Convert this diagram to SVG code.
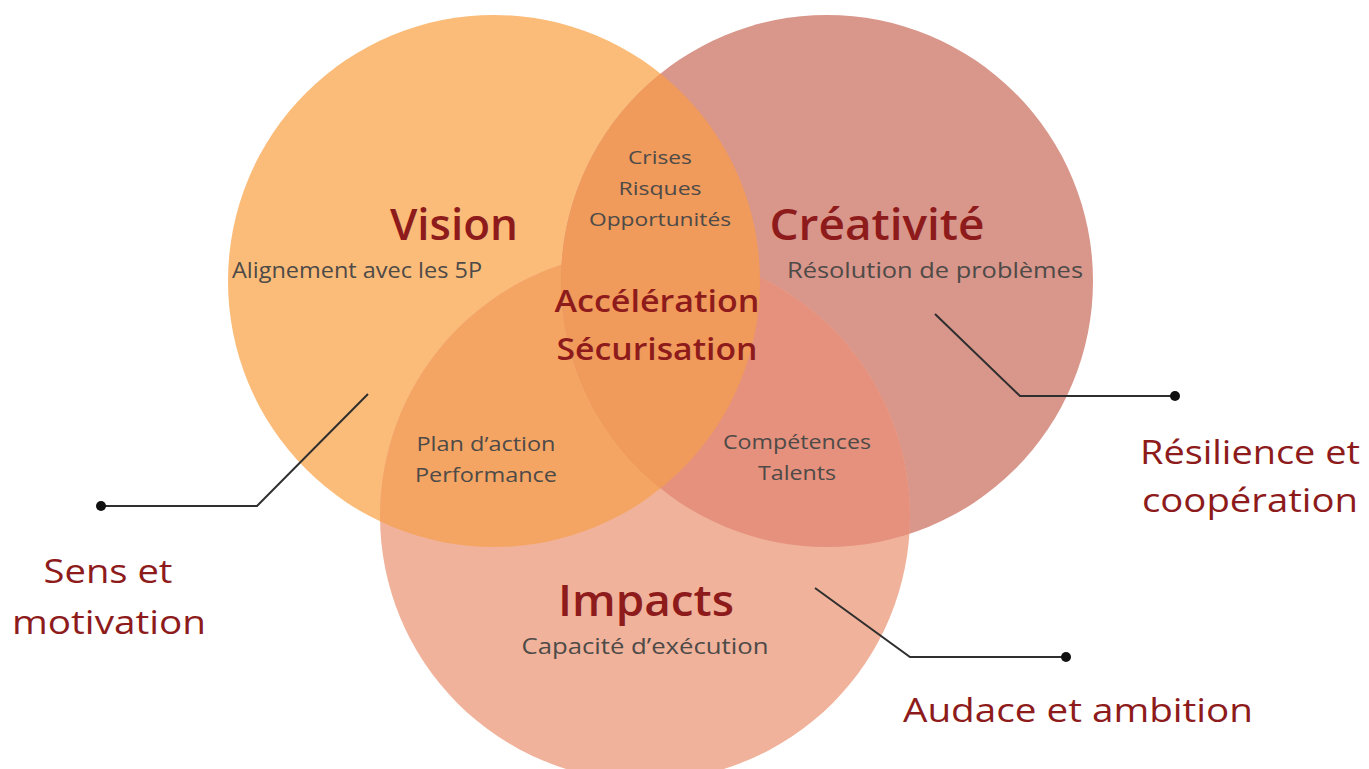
<svg xmlns="http://www.w3.org/2000/svg" width="1369" height="769" viewBox="0 0 1369 769">
<style>
text{font-family:"Open Sans",Lato,"Liberation Sans",sans-serif;text-anchor:middle}
.title{font-weight:600;fill:#8E1B1B}
.sub{font-weight:400;fill:#4D4A48}
.ext{font-weight:500;fill:#8E1B1B;font-size:33px}
.conn{fill:none;stroke:#2F2F2F;stroke-width:2}
.dot{fill:#111}
</style>
<defs>
<clipPath id="clipV"><circle cx="494" cy="281" r="266"/></clipPath>
<clipPath id="clipC"><circle cx="827" cy="281" r="266"/></clipPath>
<clipPath id="clipI"><circle cx="645" cy="516" r="265"/></clipPath>
</defs>
<rect width="1369" height="769" fill="#FFFFFF"/>
<g id="circles">
<g id="vision-circle"><circle cx="494" cy="281" r="266" fill="#FBBC79"/></g>
<g id="creativite-circle"><circle cx="827" cy="281" r="266" fill="#D9968A"/></g>
<g id="impacts-circle"><circle cx="645" cy="516" r="265" fill="#F0B29A"/></g>
<g id="overlap-vi" clip-path="url(#clipV)"><circle cx="645" cy="516" r="265" fill="#F5A563"/></g>
<g id="overlap-ci" clip-path="url(#clipC)"><circle cx="645" cy="516" r="265" fill="#E5917D"/></g>
<g id="overlap-vc" clip-path="url(#clipV)"><circle cx="827" cy="281" r="266" fill="#F09A5B"/></g>
</g>
<g id="connectors">
<polyline class="conn" points="368,394 257,506 101,506"/>
<circle class="dot" cx="101" cy="506" r="5"/>
<polyline class="conn" points="935,314 1020,396 1175,396"/>
<circle class="dot" cx="1175" cy="396" r="5"/>
<polyline class="conn" points="815,588 910,657 1066,657"/>
<circle class="dot" cx="1066" cy="657" r="5"/>
</g>
<g id="vision">
<text class="title" x="454" y="240" font-size="44" textLength="128" lengthAdjust="spacingAndGlyphs">Vision</text>
<text class="sub" x="357" y="278" font-size="21" textLength="250" lengthAdjust="spacingAndGlyphs">Alignement avec les 5P</text>
</g>
<g id="creativite">
<text class="title" x="877" y="240" font-size="44" textLength="215" lengthAdjust="spacingAndGlyphs">Créativité</text>
<text class="sub" x="935" y="278" font-size="21" textLength="296" lengthAdjust="spacingAndGlyphs">Résolution de problèmes</text>
</g>
<g id="impacts">
<text class="title" x="646" y="616" font-size="44" textLength="176" lengthAdjust="spacingAndGlyphs">Impacts</text>
<text class="sub" x="645" y="654" font-size="21" textLength="247" lengthAdjust="spacingAndGlyphs">Capacité d’exécution</text>
</g>
<g id="vc-overlap">
<text class="sub" x="660" y="164" font-size="19" textLength="64" lengthAdjust="spacingAndGlyphs">Crises</text>
<text class="sub" x="660" y="195" font-size="19" textLength="83" lengthAdjust="spacingAndGlyphs">Risques</text>
<text class="sub" x="660" y="226" font-size="19" textLength="142" lengthAdjust="spacingAndGlyphs">Opportunités</text>
</g>
<g id="center">
<text class="title" x="657" y="312" font-size="30" textLength="205" lengthAdjust="spacingAndGlyphs">Accélération</text>
<text class="title" x="657" y="360" font-size="30" textLength="201" lengthAdjust="spacingAndGlyphs">Sécurisation</text>
</g>
<g id="vi-overlap">
<text class="sub" x="486" y="451" font-size="20" textLength="139" lengthAdjust="spacingAndGlyphs">Plan d’action</text>
<text class="sub" x="486" y="482" font-size="20" textLength="142" lengthAdjust="spacingAndGlyphs">Performance</text>
</g>
<g id="ci-overlap">
<text class="sub" x="797" y="449" font-size="20" textLength="148" lengthAdjust="spacingAndGlyphs">Compétences</text>
<text class="sub" x="797" y="480" font-size="20" textLength="78" lengthAdjust="spacingAndGlyphs">Talents</text>
</g>
<g id="sens">
<text class="ext" x="108" y="583" textLength="129" lengthAdjust="spacingAndGlyphs">Sens et</text>
<text class="ext" x="109" y="634" textLength="194" lengthAdjust="spacingAndGlyphs">motivation</text>
</g>
<g id="resilience">
<text class="ext" x="1250" y="464" textLength="220" lengthAdjust="spacingAndGlyphs">Résilience et</text>
<text class="ext" x="1250" y="512" textLength="216" lengthAdjust="spacingAndGlyphs">coopération</text>
</g>
<g id="audace">
<text class="ext" x="1078" y="722" textLength="350" lengthAdjust="spacingAndGlyphs">Audace et ambition</text>
</g>
</svg>
